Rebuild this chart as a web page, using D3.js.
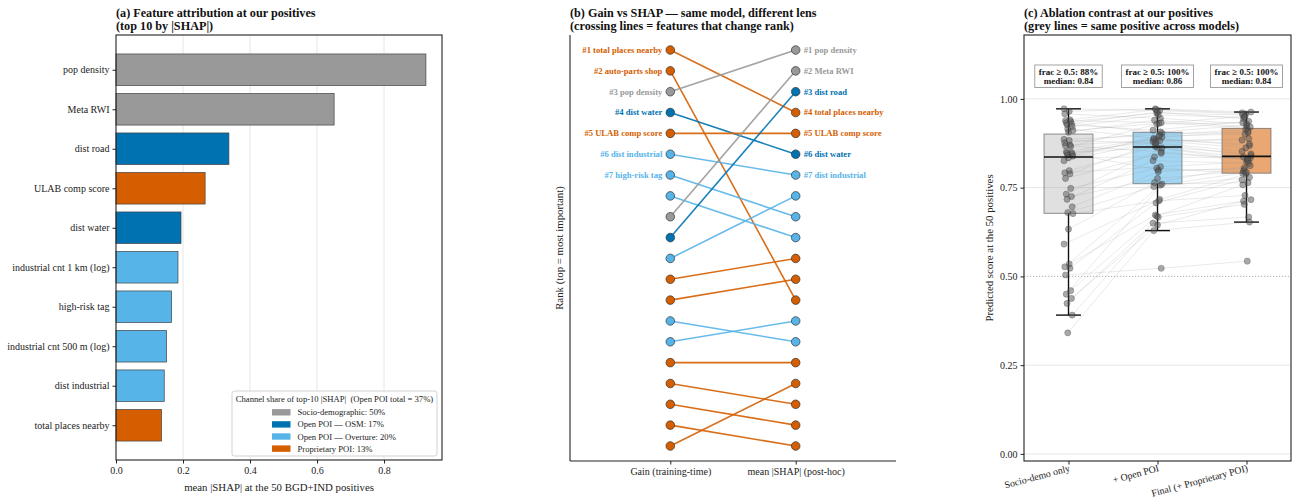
<!DOCTYPE html>
<html>
<head>
<meta charset="utf-8">
<script src="https://cdn.jsdelivr.net/npm/d3@7"></script>
<style>
  body { margin: 0; background: #fff; }
  svg { display: block; font-family: "Liberation Serif", "Times New Roman", serif; }
</style>
</head>
<body>
<svg id="fig" width="1298" height="499"></svg>
<script>
// ---------- Panel (a): top-10 features by mean |SHAP| ----------
const shapFeatures = ["pop density", "Meta RWI", "dist road", "ULAB comp score", "dist water",
  "industrial cnt 1 km (log)", "high-risk tag", "industrial cnt 500 m (log)", "dist industrial", "total places nearby"];
const shapValues = [0.925, 0.651, 0.337, 0.266, 0.194, 0.185, 0.166, 0.151, 0.144, 0.136];
const shapChannels = ["socio", "socio", "osm", "prop", "osm", "ovt", "ovt", "ovt", "ovt", "prop"];
const xTicksA = [0.0, 0.2, 0.4, 0.6, 0.8];

const channelKeys = ["socio", "osm", "ovt", "prop"];
const channelNames = ["Socio-demographic", "Open POI \u2014 OSM", "Open POI \u2014 Overture", "Proprietary POI"];
const channelColor = { socio: "#999999", osm: "#0072B2", ovt: "#56B4E9", prop: "#D55E00" };

// ---------- Panel (b): rank under gain vs rank under mean |SHAP| ----------
// index = gain rank - 1
const gainChannels = ["prop", "prop", "socio", "osm", "prop", "ovt", "ovt", "ovt", "socio", "osm",
  "ovt", "prop", "prop", "ovt", "ovt", "prop", "prop", "prop", "prop", "prop"];
const shapRankOfGain = [4, 13, 1, 6, 5, 7, 9, 10, 2, 3, 8, 11, 12, 15, 14, 16, 18, 19, 20, 17];
const gainTopNames = ["total places nearby", "auto-parts shop", "pop density", "dist water",
  "ULAB comp score", "dist industrial", "high-risk tag"];
const shapTopNames = ["pop density", "Meta RWI", "dist road", "total places nearby",
  "ULAB comp score", "dist water", "dist industrial"];
const methodLabels = ["Gain (training-time)", "mean |SHAP| (post-hoc)"];

// ---------- Panel (c): predicted score at the 50 positives, per model ----------
const modelLabels = ["Socio-demo only", "+ Open POI", "Final (+ Proprietary POI)"];
const modelColors = ["#999999", "#56B4E9", "#D55E00"];
const socioScores = [0.972, 0.965, 0.958, 0.941, 0.939, 0.936, 0.933, 0.930, 0.927, 0.922,
  0.915, 0.911, 0.906, 0.886, 0.883, 0.876, 0.870, 0.868, 0.866, 0.851,
  0.849, 0.847, 0.845, 0.842, 0.839, 0.834, 0.826, 0.798, 0.792, 0.789,
  0.776, 0.748, 0.732, 0.725, 0.717, 0.696, 0.680, 0.677, 0.633, 0.591,
  0.535, 0.527, 0.523, 0.504, 0.460, 0.450, 0.438, 0.424, 0.391, 0.341];
const openScores = [0.967, 0.972, 0.945, 0.970, 0.933, 0.960, 0.903, 0.963, 0.912, 0.955,
  0.889, 0.931, 0.940, 0.898, 0.875, 0.907, 0.884, 0.851, 0.929, 0.892,
  0.863, 0.880, 0.800, 0.886, 0.895, 0.837, 0.882, 0.866, 0.809, 0.877,
  0.847, 0.805, 0.862, 0.776, 0.826, 0.795, 0.753, 0.713, 0.764, 0.717,
  0.673, 0.757, 0.707, 0.523, 0.670, 0.760, 0.645, 0.650, 0.667, 0.629];
const finalScores = [0.958, 0.963, 0.930, 0.961, 0.918, 0.955, 0.905, 0.944, 0.937, 0.948,
  0.868, 0.951, 0.921, 0.914, 0.840, 0.926, 0.884, 0.829, 0.933, 0.909,
  0.836, 0.888, 0.801, 0.873, 0.901, 0.833, 0.862, 0.845, 0.822, 0.852,
  0.831, 0.790, 0.826, 0.797, 0.818, 0.806, 0.779, 0.728, 0.812, 0.788,
  0.716, 0.793, 0.772, 0.543, 0.758, 0.764, 0.712, 0.667, 0.703, 0.653];
const yTicksC = [0.0, 0.25, 0.5, 0.75, 1.0];

const svg = d3.select("#fig");
const INK = "#222";
const TICK_FS = 10;

function styleAxis(g, size) {
  g.select(".domain").remove();
  g.selectAll(".tick line").attr("stroke", INK).attr("stroke-width", 1);
  g.selectAll(".tick text").attr("fill", INK).style("font-size", size + "px")
    .style("font-family", "'Liberation Serif','Times New Roman',serif");
}
function title(x, lines) {
  const t = svg.append("text").attr("x", x).attr("y", 17)
    .style("font-size", "12.2px").style("font-weight", "bold").attr("fill", "#111");
  lines.forEach((l, i) => t.append("tspan").attr("x", x).attr("dy", i ? 13 : 0).text(l));
}

// ======================= Panel (a) =======================
{
  const L = 116, R = 442, T = 35, B = 460;
  const x = d3.scaleLinear().domain([0, 0.973]).range([L, R]);
  const y = d3.scaleLinear().domain([-0.88, 9.88]).range([T, B]);
  const g = svg.append("g");

  g.selectAll("line.grid").data(xTicksA.slice(1)).join("line")
    .attr("x1", d => x(d)).attr("x2", d => x(d)).attr("y1", T).attr("y2", B)
    .attr("stroke", "#e3e3e3").attr("stroke-width", 0.9);

  g.selectAll("rect.bar").data(shapValues).join("rect")
    .attr("x", x(0)).attr("y", (d, i) => y(i - 0.4))
    .attr("width", d => x(d) - x(0)).attr("height", (d, i) => y(i + 0.4) - y(i - 0.4))
    .attr("fill", (d, i) => channelColor[shapChannels[i]])
    .attr("stroke", "#444").attr("stroke-width", 0.7);

  const xa = g.append("g").attr("transform", `translate(0,${B})`)
    .call(d3.axisBottom(x).tickValues(xTicksA).tickFormat(d3.format(".1f")).tickSize(3.5).tickPadding(3));
  styleAxis(xa, TICK_FS);
  const ya = g.append("g").attr("transform", `translate(${L},0)`)
    .call(d3.axisLeft(y).tickValues(d3.range(shapFeatures.length)).tickFormat(i => shapFeatures[i]).tickSize(3.5).tickPadding(3));
  styleAxis(ya, TICK_FS);

  g.append("rect").attr("x", L).attr("y", T).attr("width", R - L).attr("height", B - T)
    .attr("fill", "none").attr("stroke", INK).attr("stroke-width", 1.1);

  g.append("text").attr("x", (L + R) / 2).attr("y", 491).attr("text-anchor", "middle")
    .style("font-size", "10.8px").attr("fill", INK)
    .text("mean |SHAP| at the 50 BGD+IND positives");

  // channel-share legend
  const total = d3.sum(shapValues);
  const share = k => d3.sum(shapValues.filter((v, i) => shapChannels[i] === k)) / total;
  const openTotal = share("osm") + share("ovt");
  const lg = g.append("g");
  lg.append("rect").attr("x", 232).attr("y", 391).attr("width", 205).attr("height", 65)
    .attr("rx", 2.5).attr("fill", "#fff").attr("fill-opacity", 0.85)
    .attr("stroke", "#cccccc").attr("stroke-width", 0.9);
  lg.append("text").attr("x", 334.5).attr("y", 402).attr("text-anchor", "middle")
    .style("font-size", "8.6px").attr("fill", INK).attr("xml:space", "preserve")
    .text(`Channel share of top-10 |SHAP|  (Open POI total = ${Math.round(openTotal * 100)}%)`);
  channelKeys.forEach((k, i) => {
    const cy = 412.3 + i * 12.1;
    lg.append("rect").attr("x", 272).attr("y", cy - 3.2).attr("width", 18.5).attr("height", 6.4)
      .attr("fill", channelColor[k]);
    lg.append("text").attr("x", 297.5).attr("y", cy + 3).style("font-size", "8.6px").attr("fill", INK)
      .text(`${channelNames[i]}: ${Math.round(share(k) * 100)}%`);
  });

  title(L, ["(a) Feature attribution at our positives", "(top 10 by |SHAP|)"]);
}

// ======================= Panel (b) =======================
{
  const L = 570, R = 896, T = 35, B = 461;
  const x = d3.scaleLinear().domain([-0.8, 1.8]).range([L, R]);
  const y = d3.scaleLinear().domain([0.28, 20.72]).range([T, B]);
  const g = svg.append("g");

  const links = gainChannels.map((c, i) => ({ gain: i + 1, shap: shapRankOfGain[i], c }));

  g.selectAll("line.link").data(links).join("line")
    .attr("x1", x(0)).attr("x2", x(1))
    .attr("y1", d => y(d.gain)).attr("y2", d => y(d.shap))
    .attr("stroke", d => channelColor[d.c]).attr("stroke-width", 1.6).attr("stroke-opacity", 0.9);

  const dots = links.flatMap(d => [{ x: 0, r: d.gain, c: d.c }, { x: 1, r: d.shap, c: d.c }]);
  g.selectAll("circle").data(dots).join("circle")
    .attr("cx", d => x(d.x)).attr("cy", d => y(d.r)).attr("r", 4.3)
    .attr("fill", d => channelColor[d.c]).attr("stroke", "#333").attr("stroke-width", 0.7);

  const LAB_FS = "8.6px";
  gainTopNames.forEach((n, i) => {
    g.append("text").attr("x", x(0) - 8).attr("y", y(i + 1)).attr("dy", "0.33em")
      .attr("text-anchor", "end").style("font-size", LAB_FS).style("font-weight", "bold")
      .attr("fill", channelColor[gainChannels[i]]).text(`#${i + 1} ${n}`);
  });
  shapTopNames.forEach((n, i) => {
    const gi = shapRankOfGain.indexOf(i + 1);
    g.append("text").attr("x", x(1) + 8).attr("y", y(i + 1)).attr("dy", "0.33em")
      .style("font-size", LAB_FS).style("font-weight", "bold")
      .attr("fill", channelColor[gainChannels[gi]]).text(`#${i + 1} ${n}`);
  });

  g.append("line").attr("x1", L).attr("x2", L).attr("y1", T).attr("y2", B).attr("stroke", INK).attr("stroke-width", 1.1);
  const xa = g.append("g").attr("transform", `translate(0,${B})`)
    .call(d3.axisBottom(x).tickValues([0, 1]).tickFormat(i => methodLabels[i]).tickSize(3.5).tickPadding(3));
  styleAxis(xa, TICK_FS);
  g.append("line").attr("x1", L).attr("x2", R).attr("y1", B).attr("y2", B).attr("stroke", INK).attr("stroke-width", 1.1);

  g.append("text").attr("transform", `translate(563,${(T + B) / 2}) rotate(-90)`)
    .attr("text-anchor", "middle").style("font-size", "10.8px").attr("fill", INK)
    .text("Rank (top = most important)");

  title(L, ["(b) Gain vs SHAP \u2014 same model, different lens", "(crossing lines = features that change rank)"]);
}

// ======================= Panel (c) =======================
{
  const L = 1024, R = 1291, T = 35, B = 461;
  const x = d3.scaleLinear().domain([-0.5, 2.5]).range([L, R]);
  const y = d3.scaleLinear().domain([-0.02, 1.18]).range([B, T]);
  const g = svg.append("g");
  const models = [socioScores, openScores, finalScores];

  // grid
  g.selectAll("line.grid").data(yTicksC.filter(d => d !== 0.5)).join("line")
    .attr("x1", L).attr("x2", R).attr("y1", d => y(d)).attr("y2", d => y(d))
    .attr("stroke", "#e6e6e6").attr("stroke-width", 1);
  g.append("line").attr("x1", L).attr("x2", R).attr("y1", y(0.5)).attr("y2", y(0.5))
    .attr("stroke", "#999").attr("stroke-width", 0.8).attr("stroke-dasharray", "1.2,1.8");

  // box statistics
  const stats = models.map(v => {
    const s = v.slice().sort(d3.ascending);
    const q1 = d3.quantile(s, 0.25), q3 = d3.quantile(s, 0.75), med = d3.quantile(s, 0.5);
    const iqr = q3 - q1;
    const lo = d3.min(s.filter(d => d >= q1 - 1.5 * iqr));
    const hi = d3.max(s.filter(d => d <= q3 + 1.5 * iqr));
    return { q1, q3, med, lo, hi, frac: s.filter(d => d >= 0.5).length / s.length };
  });
  const bw = 0.55, cw = 0.28;

  g.selectAll("rect.box").data(stats).join("rect")
    .attr("x", (d, i) => x(i - bw / 2)).attr("width", x(bw) - x(0))
    .attr("y", d => y(d.q3)).attr("height", d => y(d.q1) - y(d.q3))
    .attr("fill", (d, i) => modelColors[i])
    .attr("fill-opacity", (d, i) => (i === 0 ? 0.3 : 0.55))
    .attr("stroke", "#666").attr("stroke-opacity", 0.8).attr("stroke-width", 0.9);

  // jitter offsets per positive (deterministic spread)
  const jit = i => (((i * 7) % 13) - 6) / 6 * 0.05;
  const jit2 = (i, m) => jit(i + m * 5);

  // same-positive connectors
  const segs = [];
  for (let m = 0; m < 2; m++)
    models[m].forEach((v, i) => segs.push({ x1: m + jit2(i, m), y1: v, x2: m + 1 + jit2(i, m + 1), y2: models[m + 1][i] }));
  g.selectAll("line.pair").data(segs).join("line")
    .attr("x1", d => x(d.x1)).attr("x2", d => x(d.x2)).attr("y1", d => y(d.y1)).attr("y2", d => y(d.y2))
    .attr("stroke", "#9a9a9a").attr("stroke-opacity", 0.35).attr("stroke-width", 0.6);

  // whiskers
  stats.forEach((d, i) => {
    const w = g.append("g").attr("stroke", "#111").attr("stroke-width", 1.4);
    w.append("line").attr("x1", x(i)).attr("x2", x(i)).attr("y1", y(d.q3)).attr("y2", y(d.hi));
    w.append("line").attr("x1", x(i)).attr("x2", x(i)).attr("y1", y(d.q1)).attr("y2", y(d.lo));
    w.append("line").attr("x1", x(i - cw / 2)).attr("x2", x(i + cw / 2)).attr("y1", y(d.hi)).attr("y2", y(d.hi));
    w.append("line").attr("x1", x(i - cw / 2)).attr("x2", x(i + cw / 2)).attr("y1", y(d.lo)).attr("y2", y(d.lo));
  });

  // points
  const pts = models.flatMap((v, m) => v.map((s, i) => ({ x: m + jit2(i, m), y: s })));
  g.selectAll("circle").data(pts).join("circle")
    .attr("cx", d => x(d.x)).attr("cy", d => y(d.y)).attr("r", 3.1)
    .attr("fill", "#555").attr("fill-opacity", 0.5)
    .attr("stroke", "#222").attr("stroke-opacity", 0.4).attr("stroke-width", 0.6);

  // medians
  stats.forEach((d, i) => {
    g.append("line").attr("x1", x(i - bw / 2)).attr("x2", x(i + bw / 2)).attr("y1", y(d.med)).attr("y2", y(d.med))
      .attr("stroke", "#111").attr("stroke-width", 1.6);
  });

  // per-model summary boxes
  stats.forEach((d, i) => {
    const tg = g.append("g");
    const t = tg.append("text").attr("text-anchor", "middle").style("font-size", "9px")
      .style("font-weight", "bold").attr("fill", "#111");
    t.append("tspan").attr("x", x(i)).attr("y", 74.5).text(`frac \u2265 0.5: ${Math.round(d.frac * 100)}%`);
    t.append("tspan").attr("x", x(i)).attr("y", 84.3).text(`median: ${d.med.toFixed(2)}`);
    const bb = t.node().getBBox();
    tg.insert("rect", "text").attr("x", bb.x - 4).attr("y", 65).attr("width", bb.width + 8).attr("height", 22.5)
      .attr("fill", "#fff").attr("stroke", "#999").attr("stroke-width", 0.9);
  });

  const ya = g.append("g").attr("transform", `translate(${L},0)`)
    .call(d3.axisLeft(y).tickValues(yTicksC).tickFormat(d3.format(".2f")).tickSize(3.5).tickPadding(3));
  styleAxis(ya, TICK_FS);
  const xa = g.append("g").attr("transform", `translate(0,${B})`)
    .call(d3.axisBottom(x).tickValues([0, 1, 2]).tickFormat("").tickSize(3.5));
  styleAxis(xa, TICK_FS);
  modelLabels.forEach((n, i) => {
    g.append("text").attr("transform", `translate(${x(i) + 2},${B + 10}) rotate(-15)`)
      .attr("text-anchor", "end").style("font-size", "9.8px").attr("fill", INK).text(n);
  });

  g.append("rect").attr("x", L).attr("y", T).attr("width", R - L).attr("height", B - T)
    .attr("fill", "none").attr("stroke", INK).attr("stroke-width", 1.1);

  g.append("text").attr("transform", `translate(993,${(T + B) / 2}) rotate(-90)`)
    .attr("text-anchor", "middle").style("font-size", "10.8px").attr("fill", INK)
    .text("Predicted score at the 50 positives");

  title(L, ["(c) Ablation contrast at our positives", "(grey lines = same positive across models)"]);
}
</script>
</body>
</html>
